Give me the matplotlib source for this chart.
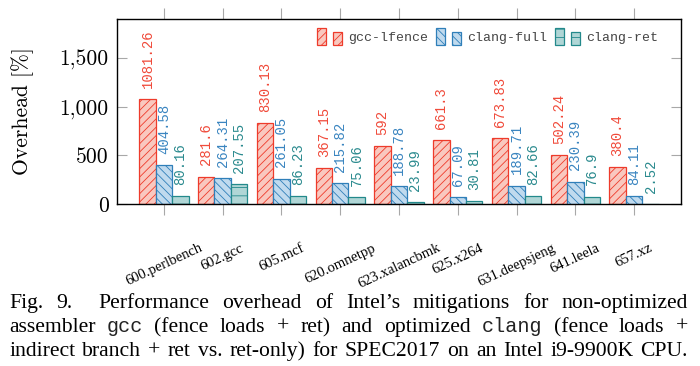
import matplotlib
matplotlib.use('Agg')
import matplotlib.pyplot as plt
import numpy as np
from matplotlib.legend_handler import HandlerBase
from matplotlib.patches import Rectangle

benchmarks = ['600.perlbench', '602.gcc', '605.mcf', '620.omnetpp', '623.xalancbmk',
              '625.x264', '631.deepsjeng', '641.leela', '657.xz']
gcc_lfence = [1081.26, 281.6, 830.13, 367.15, 592, 661.3, 673.83, 502.24, 380.4]
clang_full = [404.58, 264.31, 261.05, 215.82, 188.78, 67.09, 189.71, 230.39, 84.11]
clang_ret = [80.16, 207.55, 86.23, 75.06, 23.99, 30.81, 82.66, 76.9, 2.52]
series_names = ['gcc-lfence', 'clang-full', 'clang-ret']
y_ticks = [0, 500, 1000, 1500]
y_tick_labels = ['0', '500', '1,000', '1,500']

caption_lines = [
    [('Fig.', 's'), ('9.', 's'), ('Performance', 's'), ('overhead', 's'), ('of', 's'),
     ('Intel’s', 's'), ('mitigations', 's'), ('for', 's'), ('non-optimized', 's')],
    [('assembler', 's'), ('gcc', 'm'), ('(fence', 's'), ('loads', 's'), ('+', 's'),
     ('ret)', 's'), ('and', 's'), ('optimized', 's'), ('clang', 'm'), ('(fence', 's'),
     ('loads', 's'), ('+', 's')],
    [('indirect', 's'), ('branch', 's'), ('+', 's'), ('ret', 's'), ('vs.', 's'),
     ('ret-only)', 's'), ('for', 's'), ('SPEC2017', 's'), ('on', 's'), ('an', 's'),
     ('Intel', 's'), ('i9-9900K', 's'), ('CPU.', 's')],
]

# (edge, fill, text colour, hatch)
styles = [
    ('#ee3b2b', '#f9c8bf', '#f04a3a', '////'),
    ('#2f7fb9', '#c0daee', '#3a85c0', '\\\\\\\\'),
    ('#23898b', '#b0d6d6', '#2a8a8e', '--'),
]

plt.rcParams['hatch.linewidth'] = 0.6
SERIF = 'Liberation Serif'
MONO = 'Liberation Mono'


class PairHandler(HandlerBase):
    """pgfplots-style legend image: a tall and a short bar side by side."""

    def create_artists(self, legend, orig_handle, xdescent, ydescent,
                       width, height, fontsize, trans):
        w = width * 0.36
        kw = dict(facecolor=orig_handle.get_facecolor(),
                  edgecolor=orig_handle.get_edgecolor(),
                  hatch=orig_handle.get_hatch(), linewidth=0.9)
        tall = Rectangle((-xdescent, -ydescent), w, height, **kw)
        short = Rectangle((-xdescent + width - w, -ydescent), w, height * 0.77, **kw)
        for r in (tall, short):
            r.set_transform(trans)
        return [tall, short]


fig = plt.figure(figsize=(7, 3.66), dpi=100)
ax = fig.add_axes([0.167, 0.4426, 0.806, 0.5054])

x = np.arange(len(benchmarks))
width = 0.28
handles = []
for i, (vals, name) in enumerate(zip([gcc_lfence, clang_full, clang_ret], series_names)):
    edge, fill, tcol, hatch = styles[i]
    bars = ax.bar(x + (i - 1) * width, vals, width, color=fill, edgecolor=edge,
                  hatch=hatch, linewidth=0.9, label=name, zorder=2)
    handles.append(bars[0])
    for xi, v in zip(x + (i - 1) * width, vals):
        ax.annotate(f'{v:g}', (xi, v), xytext=(0, 8), textcoords='offset points',
                    rotation=90, ha='center', va='bottom', color=tcol,
                    family=MONO, fontsize=10)

ax.set_xlim(-0.8, 8.8)
ax.set_ylim(0, 1900)
ax.set_yticks(y_ticks)
ax.set_yticklabels(y_tick_labels, family='cmr10', fontsize=15.5)
ax.set_xticks(x)
ax.set_xticklabels(benchmarks, rotation=25, ha='center', va='top',
                   family=SERIF, fontsize=10.5)
ax.tick_params(axis='y', direction='in', left=True, right=True, length=7,
               color='#a8a8a8', pad=6)
ax.tick_params(axis='x', direction='out', top=True, bottom=True, length=8,
               color='#a8a8a8', pad=19)
for s in ax.spines.values():
    s.set_linewidth(1.0)

ax.set_ylabel('Overhead [%]', family='cmr10', fontsize=15.5)
ax.yaxis.set_label_coords(-0.147, 0.5)

leg = ax.legend(handles=handles, labels=series_names, loc='upper right', ncol=3,
                frameon=False, handler_map={Rectangle: PairHandler()},
                prop={'family': MONO, 'size': 9.5}, handlelength=1.9,
                handleheight=1.6, handletextpad=0.45, columnspacing=0.6,
                borderaxespad=0.3, bbox_to_anchor=(0.975, 1.0))
for t in leg.get_texts():
    t.set_color('#444444')

# caption, justified between two margins
fig.canvas.draw()
renderer = fig.canvas.get_renderer()
fw = fig.get_figwidth() * fig.dpi
x_left, x_right = 9 / fw, 688 / fw
baselines = [308, 332, 356]
for segs, yb in zip(caption_lines, baselines):
    texts = []
    for word, kind in segs:
        if kind == 's':
            t = fig.text(0, 1 - yb / 366, word, family=SERIF, fontsize=15.6,
                         ha='left', va='baseline')
        else:
            t = fig.text(0, 1 - yb / 366, word, family=MONO, fontsize=14.5,
                         ha='left', va='baseline', color='#222222')
        texts.append(t)
    widths = [t.get_window_extent(renderer).width / fw for t in texts]
    weights = [1.0] * (len(texts) - 1)
    if segs[0][0] == 'Fig.':
        weights[1] = 2.0
    gap = (x_right - x_left - sum(widths)) / sum(weights)
    pos = x_left
    for k, (t, w) in enumerate(zip(texts, widths)):
        t.set_x(pos)
        pos += w + (gap * weights[k] if k < len(weights) else 0)

fig.savefig('out.png', dpi=100)
